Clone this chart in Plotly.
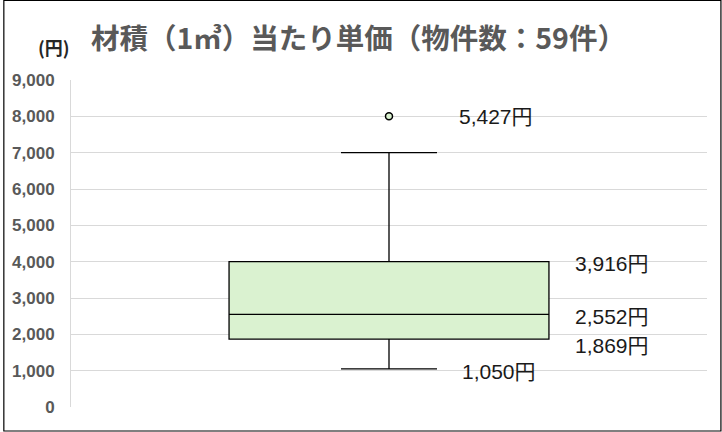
import plotly.graph_objects as go

# box statistics as drawn (円)
category = ["単価"]
q1 = [1869]
median = [2552]
q3 = [4000]
lower_fence = [1050]
upper_fence = [7000]
outliers = [8000]

# value labels shown beside the box
label_texts = ["5,427円", "3,916円", "2,552円", "1,869円", "1,050円"]
label_values = [outliers[0], q3[0], median[0], q1[0], lower_fence[0]]

y_ticks = list(range(0, 10000, 1000))

fig = go.Figure()

fig.add_trace(go.Box(
    x=category,
    q1=q1, median=median, q3=q3,
    lowerfence=lower_fence, upperfence=upper_fence,
    fillcolor="#daf2d0",
    line=dict(color="black", width=1.3),
    width=0.503,
    whiskerwidth=0.3,
    boxpoints=False,
    hoverinfo="skip",
))

fig.add_trace(go.Scatter(
    x=category * len(outliers),
    y=outliers,
    mode="markers",
    marker=dict(symbol="circle", size=7, color="#daf2d0",
                line=dict(color="black", width=1.5)),
    hoverinfo="skip",
))

# label placement: (paper x, vertical shift in px)
label_pos = [(0.607, 0), (0.79, -2), (0.79, -2), (0.79, -6), (0.612, -3)]
for txt, val, (px_, sh) in zip(label_texts, label_values, label_pos):
    fig.add_annotation(
        x=px_, xref="paper", y=val, yref="y", yshift=sh,
        text=txt, showarrow=False, xanchor="left", yanchor="middle",
        font=dict(family="Liberation Sans, Noto Sans CJK JP", size=21, color="#1a1a1a"),
    )

fig.add_annotation(
    x=-0.027, xref="paper", y=1.1, yref="paper",
    text="<b>(円)</b>", showarrow=False, xanchor="center", yanchor="middle",
    font=dict(family="Noto Sans CJK JP", size=18, color="#262626"),
)

# outer frame
fig.add_shape(type="rect", xref="paper", yref="paper",
              x0=-0.1056, x1=1.0219, y0=-0.0734, y1=1.2431,
              line=dict(color="black", width=1.2))

fig.update_layout(
    width=722, height=432,
    margin=dict(l=68, r=15, t=80, b=25),
    paper_bgcolor="white", plot_bgcolor="white",
    showlegend=False,
    title=dict(
        text="<b>材積（1㎥）当たり単価（物件数：59件）</b>",
        x=0.126, xanchor="left", y=0.91, yanchor="middle",
        font=dict(family="Noto Sans CJK JP", size=28.5, color="#595959"),
    ),
    xaxis=dict(showticklabels=False, showgrid=False, zeroline=False,
               range=[-0.5, 0.5], fixedrange=True),
    yaxis=dict(range=[0, 9000], tickvals=y_ticks, tickformat=",d",
               gridcolor="#d9d9d9", zeroline=False,
               showline=True, linecolor="#d9d9d9",
               ticks="", ticklabelstandoff=12,
               tickfont=dict(family="Liberation Sans", size=17, color="#595959", weight="bold")),
)

fig.write_html("out.html", config={"displayModeBar": False},
               post_script="document.body.style.margin='0';")
